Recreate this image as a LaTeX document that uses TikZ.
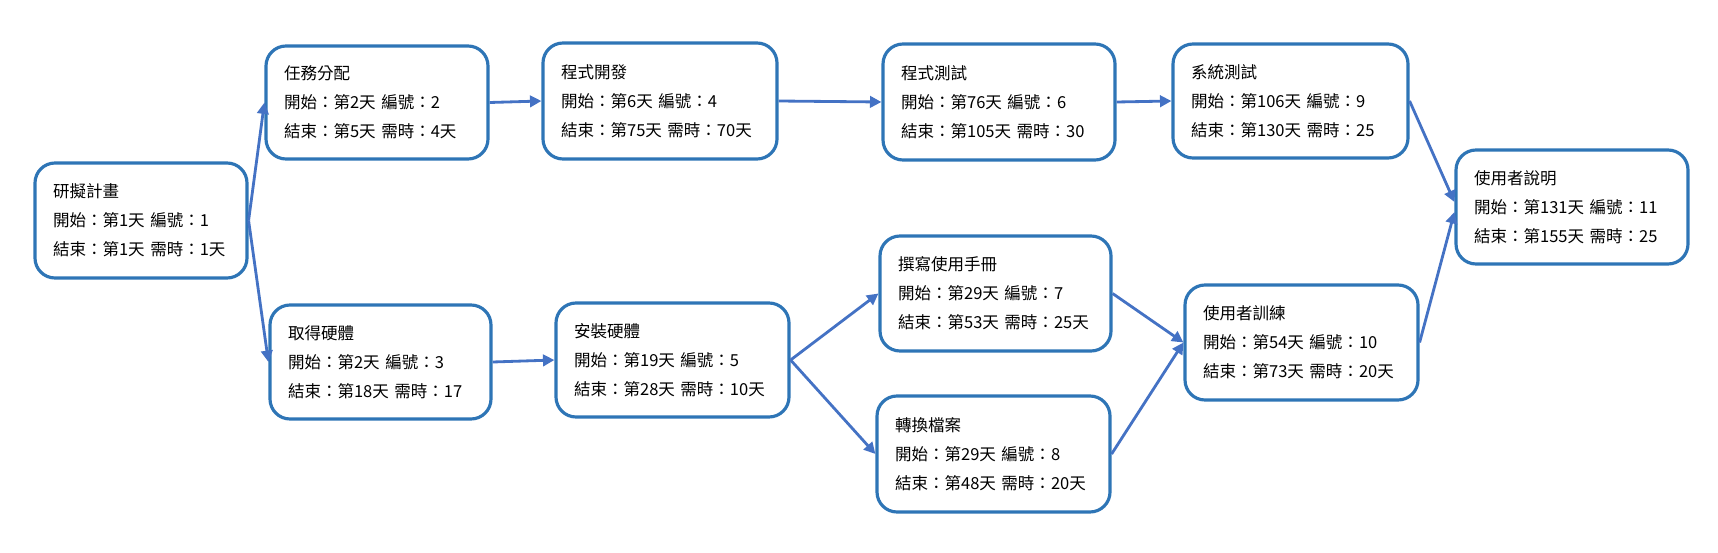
\documentclass[tikz,border=0pt]{standalone}
\usepackage{fontspec}
\newfontfamily\cjk{Noto Sans CJK TC}
\usetikzlibrary{arrows.meta,positioning}
\definecolor{boxline}{RGB}{46,117,182}
\definecolor{flowline}{RGB}{68,114,196}

\begin{document}
\begin{tikzpicture}[
  task/.style={draw=boxline,line width=1.8pt,rounded corners=0.4cm,fill=white,
    align=left,inner xsep=0.36cm,font=\cjk\fontsize{9.4}{16.5}\selectfont},
  flow/.style={flowline,line width=1.6pt,-{Triangle[length=6.5pt,width=6.5pt]}}]
  \useasboundingbox (0,0) rectangle (34.36,-11.06);
  \foreach \n/\x/\y/\w/\h/\title/\first/\last in {
    plan/2.82/-4.41/4.24/2.30/研擬計畫/開始：第1天 編號：1/結束：第1天 需時：1天,
    assign/7.54/-2.05/4.44/2.26/任務分配/開始：第2天 編號：2/結束：第5天 需時：4天,
    hwget/7.61/-7.24/4.42/2.28/取得硬體/開始：第2天 編號：3/結束：第18天 需時：17,
    devel/13.20/-2.02/4.68/2.32/程式開發/開始：第6天 編號：4/結束：第75天 需時：70天,
    hwinst/13.45/-7.20/4.66/2.28/安裝硬體/開始：第19天 編號：5/結束：第28天 需時：10天,
    progtest/19.98/-2.04/4.64/2.32/程式測試/開始：第76天 編號：6/結束：第105天 需時：30,
    manual/19.91/-5.87/4.62/2.30/撰寫使用手冊/開始：第29天 編號：7/結束：第53天 需時：25天,
    convert/19.87/-9.08/4.66/2.32/轉換檔案/開始：第29天 編號：8/結束：第48天 需時：20天,
    systest/25.81/-2.02/4.70/2.28/系統測試/開始：第106天 編號：9/結束：第130天 需時：25,
    training/26.03/-6.85/4.66/2.30/使用者訓練/開始：第54天 編號：10/結束：第73天 需時：20天,
    userdoc/31.44/-4.14/4.64/2.28/使用者說明/開始：第131天 編號：11/結束：第155天 需時：25} {
    \pgfmathsetmacro\tw{\w-0.72}
    \node[task,minimum width=\w cm,minimum height=\h cm,text width=\tw cm] (\n) at (\x,\y) {\title\\\mbox{\first}\\\mbox{\last}};
  }
  \draw[flow] (plan.east) -- (assign.west);
  \draw[flow] (plan.east) -- (hwget.west);
  \draw[flow] (assign.east) -- (devel.west);
  \draw[flow] (devel.east) -- (progtest.west);
  \draw[flow] (progtest.east) -- (systest.west);
  \draw[flow] (hwget.east) -- (hwinst.west);
  \draw[flow] (hwinst.east) -- (manual.west);
  \draw[flow] (hwinst.east) -- (convert.west);
  \draw[flow] (manual.east) -- (training.west);
  \draw[flow] (convert.east) -- (training.west);
  \draw[flow] (systest.east) -- ([yshift=0.1cm]userdoc.west);
  \draw[flow] (training.east) -- ([yshift=-0.1cm]userdoc.west);
\end{tikzpicture}
\end{document}
